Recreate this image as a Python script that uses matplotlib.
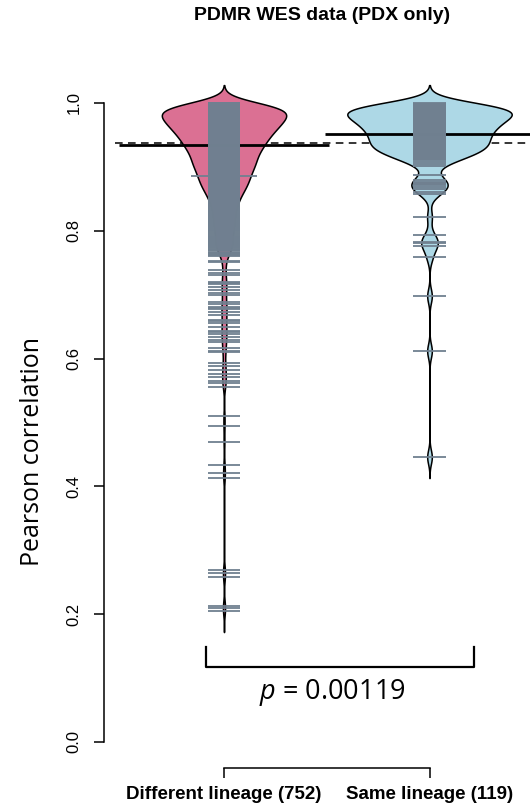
import numpy as np
import matplotlib
matplotlib.use("Agg")
import matplotlib.pyplot as plt

plt.rcParams['mathtext.fontset'] = 'custom'
plt.rcParams['mathtext.it'] = 'Open Sans:italic'
plt.rcParams['mathtext.rm'] = 'Open Sans'

groups = ["Different lineage (752)", "Same lineage (119)"]
fills = ["palevioletred", "lightblue"]

# Different lineage: the dense part as counts per 0.01 bin (lower edge), the rest as single values
diff_bin_lo = [0.76, 0.77, 0.78, 0.79, 0.80, 0.81, 0.82, 0.83, 0.84, 0.85, 0.86, 0.87,
               0.88, 0.89, 0.90, 0.91, 0.92, 0.93, 0.94, 0.95, 0.96, 0.97, 0.98, 0.99]
diff_bin_n = [6, 9, 10, 7, 11, 11, 11, 12, 14, 17, 21, 25,
              24, 28, 33, 32, 36, 41, 44, 50, 56, 62, 66, 72]
diff_single = [0.886, 0.886,
               0.752, 0.751, 0.739, 0.734, 0.731, 0.720, 0.718, 0.716, 0.712, 0.707,
               0.703, 0.700, 0.689, 0.685, 0.681, 0.679, 0.678, 0.673, 0.668, 0.660,
               0.659, 0.656, 0.649, 0.643, 0.641, 0.638, 0.634, 0.629, 0.626, 0.617,
               0.612, 0.610, 0.593, 0.588, 0.582, 0.576, 0.571, 0.565, 0.562, 0.556,
               0.510, 0.495, 0.469, 0.433, 0.421, 0.413, 0.269, 0.264, 0.258,
               0.213, 0.210, 0.205]

# Same lineage
same_bin_lo = [0.90, 0.91, 0.92, 0.93, 0.94, 0.95, 0.96, 0.97, 0.98, 0.99]
same_bin_n = [3, 6, 9, 10, 9, 10, 11, 12, 15, 15]
same_single = [0.446, 0.612, 0.698, 0.759, 0.776, 0.781, 0.782, 0.793, 0.822,
               0.857, 0.860, 0.866, 0.868, 0.871, 0.873, 0.875, 0.877, 0.879, 0.887]

group_means = [0.934, 0.951]
overall_mean = 0.937
p_value = "0.00119"

bw = 0.011      # kernel bandwidth
binw = 0.01
ll = 0.16       # stripline length per point
maxwidth = 0.8


def density(bin_lo, bin_n, single):
    vals = np.concatenate([np.array(bin_lo) + binw / 2, single])
    w = np.concatenate([bin_n, np.ones(len(single))])
    grid = np.linspace(vals.min() - 3 * bw, vals.max() + 3 * bw, 800)
    d = (w[None, :] * np.exp(-0.5 * ((grid[:, None] - vals[None, :]) / bw) ** 2)).sum(1)
    d = d / (w.sum() * bw * np.sqrt(2 * np.pi))
    return grid, d


data = [(diff_bin_lo, diff_bin_n, diff_single), (same_bin_lo, same_bin_n, same_single)]
dens = [density(*g) for g in data]
scale = (maxwidth / 2) / max(d.max() for _, d in dens)

fig = plt.figure(figsize=(5.30, 8.11), dpi=100)
ax = fig.add_axes([115 / 530, 43 / 811, 415 / 530, 693 / 811])
ax.set_xlim(0.4696, 2.489)
ax.set_ylim(-0.0407, 1.0438)

ax.axhline(overall_mean, color='black', lw=1.1, ls=(0, (5, 3.5)), zorder=1)

for i, ((grid, d), (blo, bn, single)) in enumerate(zip(dens, data)):
    pos = i + 1
    ax.fill_betweenx(grid, pos - d * scale, pos + d * scale, facecolor=fills[i],
                     edgecolor='black', lw=1.1, zorder=2)
    ax.hlines(group_means[i], pos - 0.51, pos + 0.51, color='black', lw=2, zorder=3)
    # striplines
    for lo, n in zip(blo, bn):
        ys = lo + (np.arange(n) + 0.5) * binw / n
        ax.hlines(ys, pos - ll / 2, pos + ll / 2, color='slategray', lw=1.3, zorder=4)
    u, c = np.unique(single, return_counts=True)
    ax.hlines(u, pos - ll * c / 2, pos + ll * c / 2, color='slategray', lw=1.3, zorder=4)

# comparison bracket and p-value
ax.plot([0.91, 0.91, 2.217, 2.217], [0.149, 0.1174, 0.1174, 0.149], color='black',
        lw=1.6, solid_joinstyle='round', clip_on=False)
ax.text(1.526, 0.0767, r"$p$ = " + p_value, ha='center', va='center', fontsize=19.5,
        family='Open Sans')

for s in ['top', 'right']:
    ax.spines[s].set_visible(False)
ax.spines['left'].set_position(('outward', 8))
ax.spines['left'].set_bounds(0, 1)
ax.spines['bottom'].set_bounds(1, 2)
for s in ['left', 'bottom']:
    ax.spines[s].set_linewidth(1.1)

ax.set_yticks([0, 0.2, 0.4, 0.6, 0.8, 1.0])
ax.set_yticklabels(["0.0", "0.2", "0.4", "0.6", "0.8", "1.0"], rotation=90, va='center',
                   family='Liberation Sans', fontsize=12)
ax.tick_params(axis='y', length=7, width=1.1, pad=9)
ax.set_xticks([1, 2])
ax.set_xticklabels(groups, family='Liberation Sans', fontweight='bold', fontsize=13.5)
ax.tick_params(axis='x', length=7, width=1.1, pad=6)

fig.text(33 / 530, 1 - 452 / 811, "Pearson correlation", rotation=90, ha='center',
         va='center', fontsize=18, family='Open Sans')
fig.text(322 / 530, 1 - 16 / 811, "PDMR WES data (PDX only)", ha='center', va='center',
         fontsize=14, fontweight='bold', family='Liberation Sans')

fig.savefig("out.png", dpi=100)
